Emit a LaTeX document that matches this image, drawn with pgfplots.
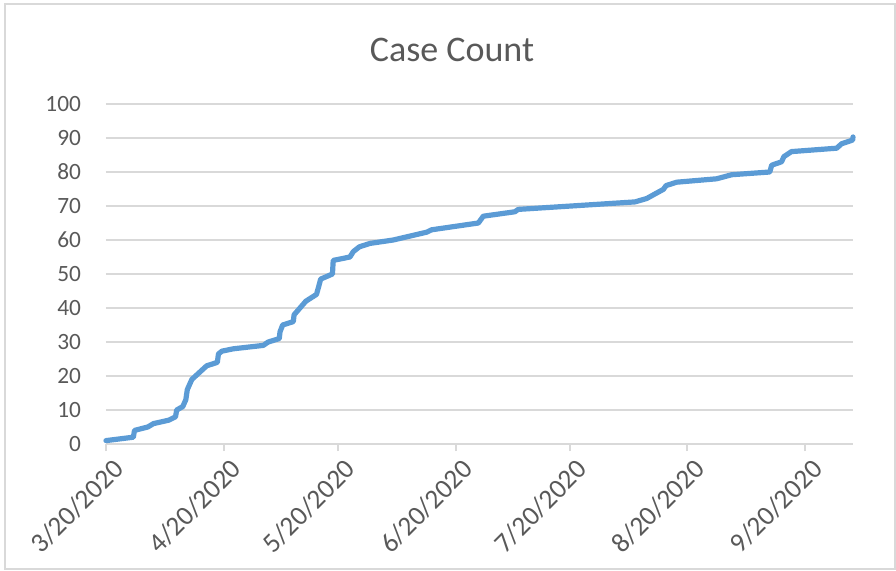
\documentclass[border=0pt]{standalone}
\usepackage{pgfplots}
\pgfplotsset{compat=1.18}
\usepackage{fontspec}
\setmainfont{Carlito}
\definecolor{linecol}{HTML}{5B9BD5}
\definecolor{gridcol}{HTML}{D9D9D9}
\definecolor{txtcol}{HTML}{595959}
\begin{document}
\begin{tikzpicture}
\useasboundingbox (0,0) rectangle (672pt,428.25pt);
\draw[gridcol, line width=1.2pt] (3.75pt,1.5pt) rectangle (671.25pt,425.25pt);
\begin{axis}[
  at={(79.5pt,95.25pt)}, anchor=south west,
  scale only axis, width=560.25pt, height=255pt,
  xmin=0, xmax=196.6, ymin=0, ymax=100,
  clip=false,
  axis x line*=bottom, axis y line*=left,
  y axis line style={draw=none},
  x axis line style={gridcol, line width=1.5pt, -},
  xtick={0,31,61,92,122,153,184},
  xticklabels={3/20/2020,4/20/2020,5/20/2020,6/20/2020,7/20/2020,8/20/2020,9/20/2020},
  ytick={0,10,...,100},
  ymajorgrids, grid style={gridcol, line width=1.5pt},
  tick align=outside,
  xtick style={gridcol, line width=1.5pt},
  major tick length=5.25pt,
  y tick style={draw=none},
  every tick label/.append style={text=txtcol},
  yticklabel style={font=\fontsize{17.5}{20}\selectfont, xshift=-10pt},
  /pgf/number format/assume math mode=true,
  xticklabel style={font=\fontsize{20.5}{24}\selectfont, rotate=45, anchor=east, xshift=3pt, yshift=-14pt},
]
\addplot[linecol, line width=3.9pt, line join=round, line cap=round] coordinates {
(0,1) (7.2,2) (7.5,4) (11,5) (12.5,6) (16.5,7) (18.3,8) (18.6,10) (20.2,11)
(21,13) (21.4,16) (22.6,19) (26.5,23) (29.3,24) (29.6,26.5) (30.5,27.3) (33.5,28)
(41.4,29) (42.7,30) (45.6,31) (45.8,33) (46.5,35) (49.3,36) (49.5,38) (52.6,42)
(55.4,44) (55.9,46) (56.5,48.5) (59.6,50) (59.8,54) (64.2,55) (65.1,56.6) (66.7,58)
(69.5,59) (75.6,60) (84.4,62.3) (85.7,63) (98,65) (99.3,67) (107.6,68.3) (108.5,69)
(139.2,71.2) (142.3,72.2) (144.9,73.8) (146.7,74.9) (147.4,76) (150.2,77) (160.7,78)
(164.7,79.2) (174.7,80) (175.2,82) (177.8,83) (178.4,84.5) (180.4,86) (192.3,87)
(193.6,88.3) (196.5,89.4) (196.6,90.3)
};
\end{axis}
\node[text=txtcol, font=\fontsize{27}{30}\selectfont] at (339pt,390.75pt) {Case Count};
\end{tikzpicture}
\end{document}
